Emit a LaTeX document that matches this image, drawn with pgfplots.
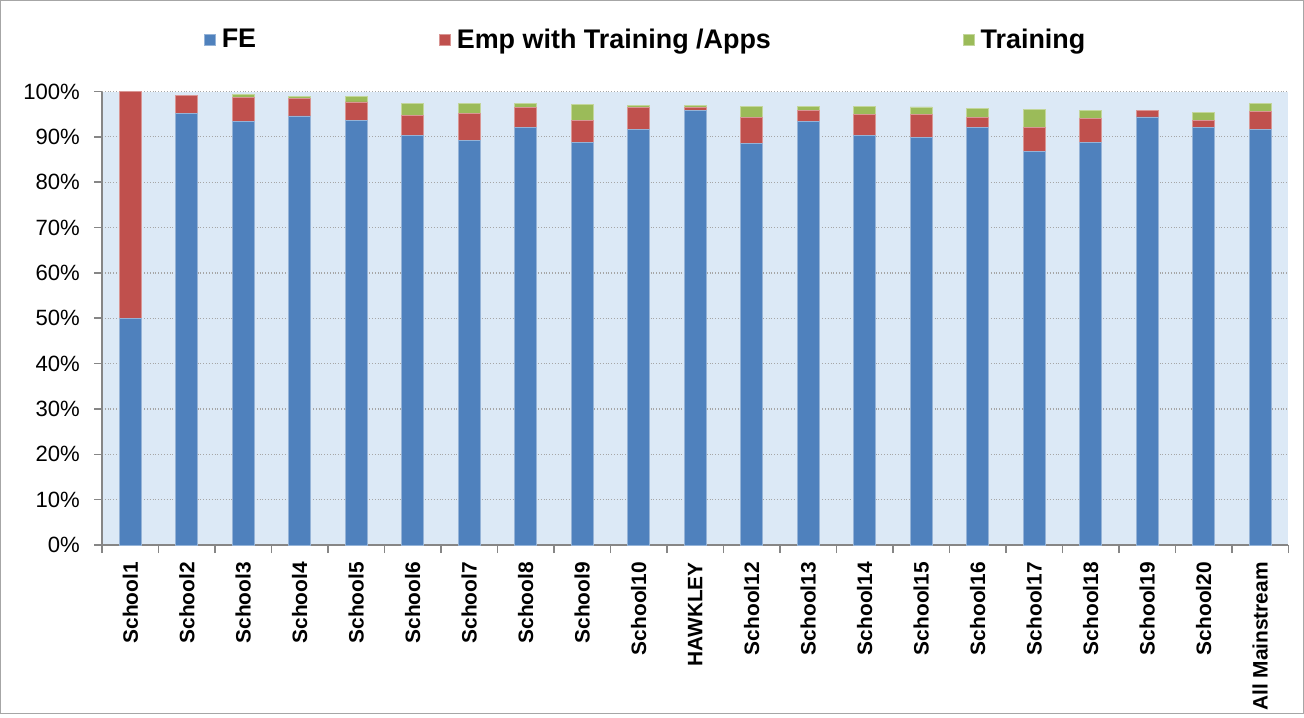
\documentclass[border=0pt]{standalone}
\usepackage{fontspec}
\setmainfont{Liberation Sans}
\usepackage{pgfplots}
\usepackage{pgfplotstable}
\pgfplotsset{compat=1.18}

\definecolor{feblue}{RGB}{79,129,189}
\definecolor{empred}{RGB}{192,80,77}
\definecolor{trgreen}{RGB}{155,187,89}
\definecolor{plotbg}{RGB}{220,233,246}
\definecolor{axgray}{RGB}{134,134,134}

% values in percent
\pgfplotstableread{
x  fe    emp   tr
0  50.0  50.0  0.0
1  95.2  4.0   0.0
2  93.4  5.3   0.6
3  94.6  3.8   0.6
4  93.6  4.1   1.3
5  90.4  4.3   2.7
6  89.2  5.9   2.3
7  92.1  4.3   0.9
8  88.8  4.8   3.5
9  91.6  4.9   0.5
10 95.9  0.5   0.6
11 88.5  5.8   2.5
12 93.4  2.5   0.8
13 90.4  4.6   1.7
14 89.8  5.1   1.7
15 92.1  2.1   2.1
16 86.7  5.3   4.1
17 88.7  5.3   1.9
18 94.4  1.5   0.0
19 92.1  1.5   1.7
20 91.6  4.1   1.6
}\schools

\begin{document}
\begin{tikzpicture}
\begin{axis}[
    scale only axis,
    width=590.5pt,
    height=225.75pt,
    ybar stacked,
    bar width=11pt,
    xmin=-0.5, xmax=20.5,
    ymin=0, ymax=100,
    axis x line*=bottom,
    axis y line*=left,
    axis line style={axgray, line width=0.8pt},
    axis background/.style={fill=plotbg},
    tick align=outside,
    major tick length=4pt,
    tick style={axgray, line width=0.8pt},
    ytick={0,10,...,100},
    yticklabel={\pgfmathprintnumber{\tick}\%},
    /pgf/number format/assume math mode=true,
    yticklabel style={font=\fontsize{11}{13}\selectfont, xshift=-3.5pt},
    ymajorgrids,
    major grid style={densely dotted, gray!70, line width=0.6pt},
    xtick={-0.5,0.5,...,20.5},
    xticklabels={},
    extra x ticks={0,1,...,20},
    extra x tick labels={School1,School2,School3,School4,School5,School6,School7,School8,School9,School10,HAWKLEY,School12,School13,School14,School15,School16,School17,School18,School19,School20,All Mainstream},
    extra x tick style={
        major tick length=0pt,
        xticklabel style={rotate=90, anchor=east, font=\bfseries\fontsize{10.4}{12}\selectfont, xshift=-5pt},
    },
    legend columns=3,
    legend style={
        at={(0.0855,1.114)}, anchor=west,
        draw=none, fill=none, inner sep=0pt,
        font=\bfseries\fontsize{13.4}{15}\selectfont,
        /tikz/every even column/.append style={column sep=89pt},
    },
    legend image code/.code={\fill[#1] (0pt,-2.7pt) rectangle (5.4pt,2.7pt); \path (6.5pt,0pt);},
]
\addplot[fill=feblue, draw=feblue!60!white, line width=0.4pt] table[x=x, y=fe] {\schools};
\addplot[fill=empred, draw=empred!60!white, line width=0.4pt] table[x=x, y=emp] {\schools};
\addplot[fill=trgreen, draw=trgreen!60!white, line width=0.4pt] table[x=x, y=tr] {\schools};
\legend{FE, Emp with Training /Apps\hspace*{4.5pt}, Training}
\end{axis}
\draw[gray!70, line width=0.6pt] (-50.5pt,-84pt) rectangle (598pt,271pt);
\end{tikzpicture}
\end{document}
